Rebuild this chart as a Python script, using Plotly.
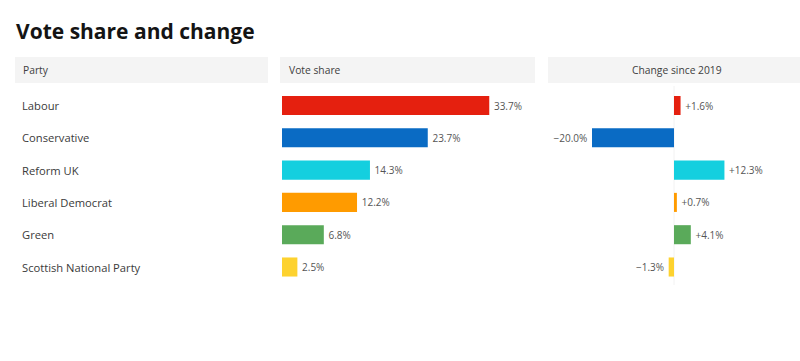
import plotly.graph_objects as go

parties = ["Labour", "Conservative", "Reform UK", "Liberal Democrat", "Green", "Scottish National Party"]
vote_share = [33.7, 23.7, 14.3, 12.2, 6.8, 2.5]
change = [1.6, -20.0, 12.3, 0.7, 4.1, -1.3]
colors = ["#E5200F", "#0A6BC4", "#14CFDF", "#FF9B00", "#5AAA5A", "#FDD22F"]

title = "Vote share and change"
headers = ["Party", "Vote share", "Change since 2019"]

W, H = 800, 361
def px(x):
    return x / W
def py(y):
    return 1 - y / H

FONT = "Open Sans"
TXT = "#404040"

fig = go.Figure()

fig.add_trace(go.Bar(
    x=vote_share, y=parties, orientation="h",
    marker=dict(color=colors, line=dict(width=0)),
    width=0.59,
    text=[f"\u2009{v:.1f}%" for v in vote_share],
    textposition="outside", cliponaxis=False,
    textfont=dict(family=FONT, size=10, color="#555555"),
    xaxis="x", yaxis="y", hoverinfo="skip",
))

fig.add_trace(go.Bar(
    x=change, y=parties, orientation="h",
    marker=dict(color=colors, line=dict(width=0)),
    width=0.59,
    text=[(f"\u2009+{v:.1f}%" if v > 0 else f"\u2212{abs(v):.1f}%\u2009") for v in change],
    textposition="outside", cliponaxis=False,
    textfont=dict(family=FONT, size=10, color="#555555"),
    xaxis="x2", yaxis="y", hoverinfo="skip",
))

# geometry
vs_left, vs_right, vs_scale = 282, 535, 6.15
ch_left, ch_right, ch_zero, ch_scale = 548, 800, 674, 4.1
row0, step = 105.5, 32.3

shapes = []
for x0, x1 in [(15, 268), (280, 535), (548, 800)]:
    shapes.append(dict(type="rect", xref="paper", yref="paper",
                       x0=px(x0), x1=px(x1), y0=py(83), y1=py(57),
                       fillcolor="#F4F4F4", line=dict(width=0), layer="below"))
shapes.append(dict(type="line", xref="paper", yref="paper",
                   x0=px(ch_zero), x1=px(ch_zero), y0=py(86), y1=py(285),
                   line=dict(color="#F2F2F2", width=1), layer="below"))

annotations = [
    dict(text=f"<b>{title}</b>", xref="paper", yref="paper", x=px(14), y=py(31),
         xanchor="left", yanchor="middle", showarrow=False,
         font=dict(family=FONT, size=21, color="#141414")),
    dict(text=headers[0], xref="paper", yref="paper", x=px(21), y=py(70),
         xanchor="left", yanchor="middle", showarrow=False,
         font=dict(family=FONT, size=10.3, color=TXT)),
    dict(text=headers[1], xref="paper", yref="paper", x=px(287), y=py(70),
         xanchor="left", yanchor="middle", showarrow=False,
         font=dict(family=FONT, size=10.3, color=TXT)),
    dict(text=headers[2], xref="paper", yref="paper", x=px(677), y=py(70),
         xanchor="center", yanchor="middle", showarrow=False,
         font=dict(family=FONT, size=10.3, color=TXT)),
]
for p in parties:
    annotations.append(dict(text=p, xref="paper", yref="y", x=px(20), y=p,
                            xanchor="left", yanchor="middle", showarrow=False,
                            font=dict(family=FONT, size=11.2, color="#3a3a3a")))

fig.update_layout(
    width=W, height=H,
    margin=dict(l=0, r=0, t=0, b=0),
    paper_bgcolor="white", plot_bgcolor="rgba(0,0,0,0)",
    showlegend=False,
    barmode="overlay",
    xaxis=dict(domain=[px(vs_left), px(vs_right)],
               range=[0, (vs_right - vs_left) / vs_scale],
               visible=False, fixedrange=True),
    xaxis2=dict(domain=[px(ch_left), px(ch_right)],
                range=[-(ch_zero - ch_left) / ch_scale, (ch_right - ch_zero) / ch_scale],
                visible=False, fixedrange=True),
    yaxis=dict(domain=[0, 1], type="category", categoryarray=parties,
               range=[(H - row0) / step, -row0 / step],
               visible=False, fixedrange=True),
    shapes=shapes,
    annotations=annotations,
)

fig.write_html("out.html")
